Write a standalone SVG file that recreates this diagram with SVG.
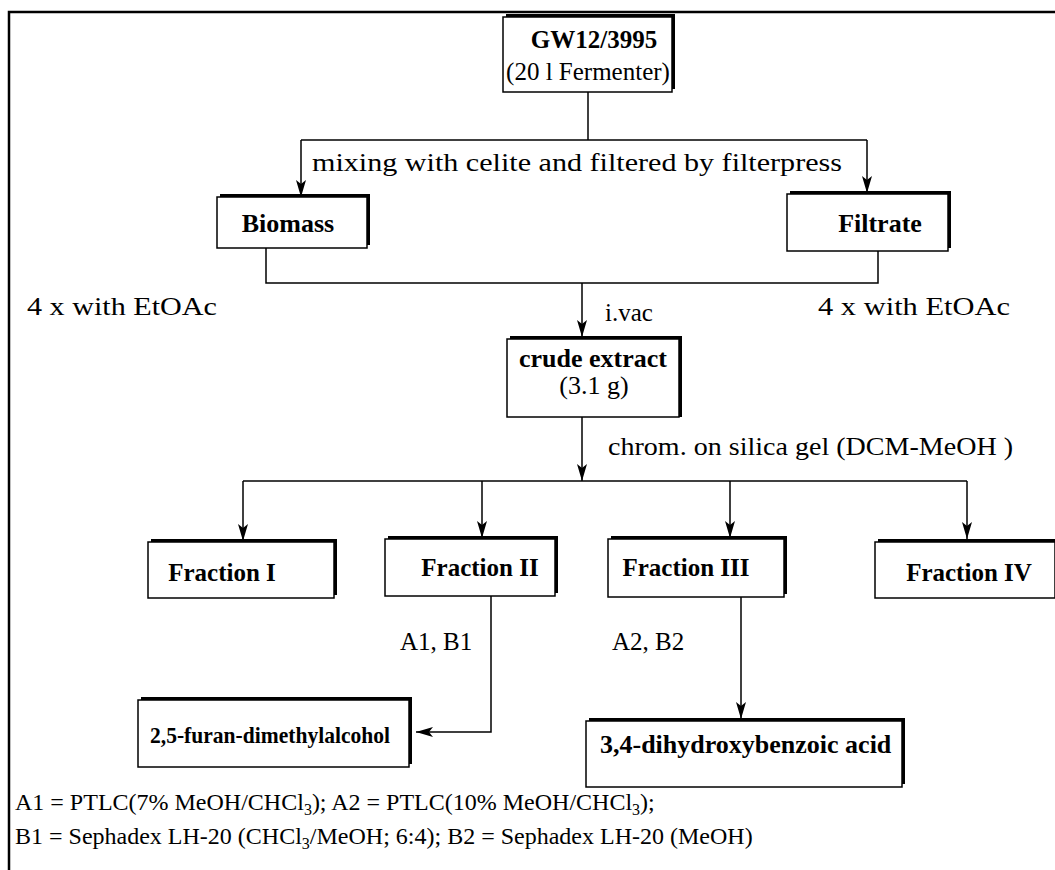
<svg xmlns="http://www.w3.org/2000/svg" width="1055" height="870" viewBox="0 0 1055 870">
<defs>
<style>
text{font-family:"Liberation Serif","Times New Roman",serif;font-size:25px;fill:#000}
.b{font-weight:bold}
.m{text-anchor:middle}
.sh{fill:#000}
.bx{fill:#fff;stroke:#000;stroke-width:1.5}
.ln{fill:none;stroke:#000;stroke-width:1.5}
.ar{fill:none;stroke:#000;stroke-width:1.5;marker-end:url(#ah)}
</style>
<marker id="ah" markerWidth="18" markerHeight="10" refX="17" refY="5" orient="auto" markerUnits="userSpaceOnUse" viewBox="0 0 18 10">
<path d="M0,0 L17,5 L0,10 L4,5 Z" fill="#000"/>
</marker>
</defs>
<rect width="1055" height="870" fill="#fff"/>
<path d="M9,870 V12 H1055" fill="none" stroke="#000" stroke-width="2.5"/>

<g id="connectors">
<path class="ln" d="M588,92 V140"/>
<path class="ln" d="M301,140 H867"/>
<path d="M301,140 V197" class="ar"/>
<path d="M867,140 V193" class="ar"/>
<path class="ln" d="M266,248 V283 H878 V251"/>
<path d="M582,283 V337" class="ar"/>
<path d="M582,417 V481" class="ar"/>
<path class="ln" d="M243,481 H967"/>
<path d="M243,481 V541" class="ar"/>
<path d="M482,481 V538" class="ar"/>
<path d="M730,481 V538" class="ar"/>
<path d="M967,481 V539" class="ar"/>
<path class="ln" d="M491,596 V732 H440"/>
<path d="M440,732 H416" class="ar"/>
<path d="M741,597 V719" class="ar"/>
</g>

<g id="n_gw">
<rect class="sh" x="506" y="14" width="169" height="75"/>
<rect class="bx" x="503" y="17" width="169" height="75"/>
<text class="b m" x="594" y="48">GW12/3995</text>
<text class="m" x="588" y="80">(20 l Fermenter)</text>
</g>

<text x="312" y="171" textLength="530" lengthAdjust="spacingAndGlyphs" style="font-size:26px">mixing with celite and filtered by filterpress</text>

<g id="n_biomass">
<rect class="sh" x="220" y="194" width="150" height="51"/>
<rect class="bx" x="217" y="197" width="150" height="51"/>
<text class="b m" x="288" y="232" style="font-size:26px">Biomass</text>
</g>

<g id="n_filtrate">
<rect class="sh" x="790" y="191" width="161" height="57"/>
<rect class="bx" x="787" y="194" width="161" height="57"/>
<text class="b m" x="880" y="232" style="font-size:26px">Filtrate</text>
</g>

<text x="27" y="315" textLength="190" lengthAdjust="spacingAndGlyphs" style="font-size:26px">4 x with EtOAc</text>
<text x="818" y="315" textLength="192" lengthAdjust="spacingAndGlyphs" style="font-size:26px">4 x with EtOAc</text>
<text x="605" y="321">i.vac</text>

<g id="n_crude">
<rect class="sh" x="510" y="336" width="172" height="81"/>
<rect class="bx" x="507" y="339" width="172" height="78"/>
<text class="b m" x="593" y="367" style="font-size:26px">crude extract</text>
<text class="m" x="594" y="394" style="font-size:26px">(3.1 g)</text>
</g>

<text x="608" y="455" textLength="405" lengthAdjust="spacingAndGlyphs" style="font-size:26px">chrom. on silica gel (DCM-MeOH )</text>

<g id="n_f1">
<rect class="sh" x="151" y="539" width="186" height="56"/>
<rect class="bx" x="148" y="542" width="186" height="56"/>
<text class="b m" x="222" y="581">Fraction I</text>
</g>
<g id="n_f2">
<rect class="sh" x="388" y="536" width="170" height="57"/>
<rect class="bx" x="385" y="539" width="170" height="57"/>
<text class="b m" x="480" y="576">Fraction II</text>
</g>
<g id="n_f3">
<rect class="sh" x="611" y="536" width="176" height="58"/>
<rect class="bx" x="608" y="539" width="176" height="58"/>
<text class="b m" x="686" y="576">Fraction III</text>
</g>
<g id="n_f4">
<rect class="sh" x="878" y="539" width="180" height="56"/>
<rect class="bx" x="875" y="542" width="180" height="56"/>
<text class="b m" x="969" y="581">Fraction IV</text>
</g>

<text x="400" y="650">A1, B1</text>
<text x="612" y="650">A2, B2</text>

<g id="n_furan">
<rect class="sh" x="141" y="697" width="271" height="67"/>
<rect class="bx" x="138" y="700" width="271" height="67"/>
<text class="b" x="150" y="743" textLength="240" lengthAdjust="spacingAndGlyphs" style="font-size:23px">2,5-furan-dimethylalcohol</text>
</g>

<g id="n_dhba">
<rect class="sh" x="589" y="718" width="316" height="66"/>
<rect class="bx" x="586" y="721" width="316" height="66"/>
<text class="b" x="600" y="753" style="font-size:26px">3,4-dihydroxybenzoic acid</text>
</g>

<g id="legend">
<text x="15" y="810" style="font-size:24px">A1 = PTLC(7% MeOH/CHCl<tspan font-size="16" dy="5">3</tspan><tspan dy="-5">); A2 = PTLC(10% MeOH/CHCl</tspan><tspan font-size="16" dy="5">3</tspan><tspan dy="-5">);</tspan></text>
<text x="15" y="844" style="font-size:24px">B1 = Sephadex LH-20 (CHCl<tspan font-size="16" dy="5">3</tspan><tspan dy="-5">/MeOH; 6:4); B2 = Sephadex LH-20 (MeOH)</tspan></text>
</g>
</svg>
